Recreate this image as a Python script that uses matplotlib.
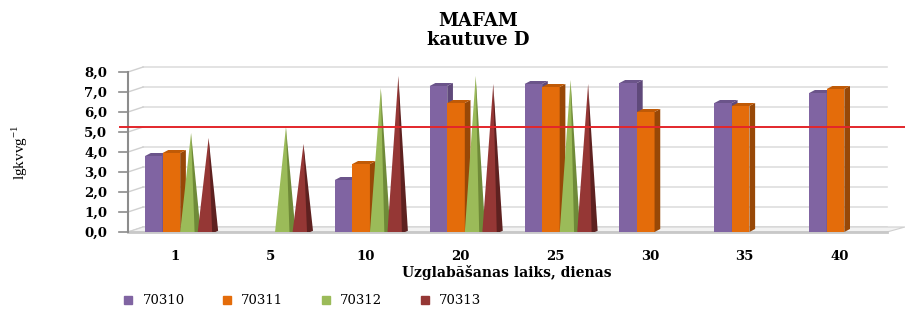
import numpy as np
import matplotlib
matplotlib.use('Agg')
import matplotlib.pyplot as plt
from matplotlib.patches import Polygon, Patch

# Storage time (days) and the four samples
days = ['1', '5', '10', '20', '25', '30', '35', '40']
s70310 = [3.8, np.nan, 2.6, 7.3, 7.4, 7.45, 6.45, 6.95]
s70311 = [3.95, np.nan, 3.4, 6.45, 7.25, 6.0, 6.3, 7.15]
s70312 = [4.95, 5.25, 7.2, 7.8, 7.6, np.nan, np.nan, np.nan]
s70313 = [4.7, 4.4, 7.8, 7.4, 7.4, np.nan, np.nan, np.nan]
limit = 5.0
labels = ['70310', '70311', '70312', '70313']

# colours: front, side, top
col_p = ('#8064a2', '#5f497a', '#6b548a')
col_o = ('#e46c0a', '#984807', '#c05a06')
col_g = ('#9bbb59', '#6f8a38')
col_r = ('#953735', '#5e2120')

fig = plt.figure(figsize=(9.05, 3.10), dpi=100)
ax = fig.add_axes([128 / 905, 1 - 232 / 310, (887 - 128) / 905, 160 / 310])
x = np.arange(len(days))
w = 0.185
bdx, bdy = 0.06, 0.15      # bar depth
wdx, wdy = 0.16, 0.25      # back wall offset
xl, xr = -0.5, 7.5
ax.set_xlim(xl, xr)
ax.set_ylim(0, 8)

# back wall grid
for v in range(9):
    ax.plot([xl + wdx, xr], [v + wdy, v + wdy], color='#dedede', lw=1.2, zorder=0, clip_on=False)
    ax.plot([xl, xl + wdx], [v, v + wdy], color='#d0d0d0', lw=1, zorder=0, clip_on=False)
    ax.plot([xl - 0.1, xl], [v, v], color='#8c8c8c', lw=1.2, clip_on=False)
# floor
ax.add_patch(Polygon([(xl, 0), (xr, 0), (xr + 0.19, wdy), (xl + wdx, wdy)],
                     closed=True, fc='#f2f2f2', ec='#d0d0d0', lw=0.8, zorder=1, clip_on=False))
ax.plot([xl, xr], [0, 0], color='#c8c8c8', lw=2, zorder=1, clip_on=False)
ax.plot([xl, xl], [0, 8], color='#8c8c8c', lw=1.5, clip_on=False)

# threshold line
ax.plot([xl - 0.08, xr + 0.19], [limit + wdy, limit + wdy], color='#e3262b', lw=1.4,
        zorder=6, clip_on=False)


def box_bars(vals, off, cols):
    x0 = x + off
    ax.bar(x0, vals, width=w, align='edge', color=cols[0], zorder=3)
    for xi, h in zip(x0, vals):
        if np.isnan(h):
            continue
        ax.add_patch(Polygon([(xi + w, 0), (xi + w + bdx, bdy), (xi + w + bdx, h + bdy), (xi + w, h)],
                             closed=True, fc=cols[1], ec='none', zorder=3))
        ax.add_patch(Polygon([(xi, h), (xi + w, h), (xi + w + bdx, h + bdy), (xi + bdx, h + bdy)],
                             closed=True, fc=cols[2], ec='none', zorder=3))


def cones(vals, off, cols):
    for xi, h in zip(x + off, vals):
        if np.isnan(h):
            continue
        tip = (xi + 0.62 * w, h)
        ax.add_patch(Polygon([(xi, 0), (xi + w, 0), tip], closed=True, fc=cols[0], ec='none', zorder=4))
        ax.add_patch(Polygon([(xi + 0.82 * w, 0), (xi + w, 0), (xi + w + bdx * 0.5, bdy * 0.4), tip],
                             closed=True, fc=cols[1], ec='none', zorder=4))


box_bars(s70310, -0.32, col_p)
box_bars(s70311, -0.135, col_o)
cones(s70312, 0.05, col_g)
cones(s70313, 0.235, col_r)

for s in ax.spines.values():
    s.set_visible(False)
ax.set_xticks(x)
ax.set_xticklabels(days, fontfamily='DejaVu Serif', fontweight='bold', fontsize=9.5)
ax.set_yticks(range(9))
ax.set_yticklabels(['%d,0' % v for v in range(9)], fontfamily='DejaVu Serif',
                   fontweight='bold', fontsize=9.5)
ax.tick_params(axis='x', length=0, pad=13)
ax.tick_params(axis='y', length=0, pad=15)

fig.text(0.528, 1 - 21 / 310, 'MAFAM', ha='center', va='center', fontfamily='DejaVu Serif',
         fontweight='bold', fontsize=13)
fig.text(0.528, 1 - 40 / 310, 'kautuve D', ha='center', va='center', fontfamily='DejaVu Serif',
         fontweight='bold', fontsize=13)
fig.text(507 / 905, 1 - 273 / 310, 'Uzglabāšanas laiks, dienas', ha='center', va='center',
         fontfamily='DejaVu Serif', fontweight='bold', fontsize=10)
fig.text(20 / 905, 1 - 152 / 310, r'lgkvvg$^{\mathregular{-1}}$', ha='center', va='center',
         rotation=90, fontfamily='Liberation Serif', fontsize=11)

handles = [Patch(color=c) for c in (col_p[0], col_o[0], col_g[0], col_r[0])]
fig.legend(handles, labels, loc='center left', bbox_to_anchor=(124 / 905, 1 - 301 / 310), ncol=4,
           frameon=False, handlelength=0.6, handleheight=0.6, handletextpad=0.8,
           columnspacing=2.9, borderpad=0, borderaxespad=0,
           prop={'family': 'DejaVu Serif', 'size': 9.5})

fig.savefig('out.png', dpi=100)
